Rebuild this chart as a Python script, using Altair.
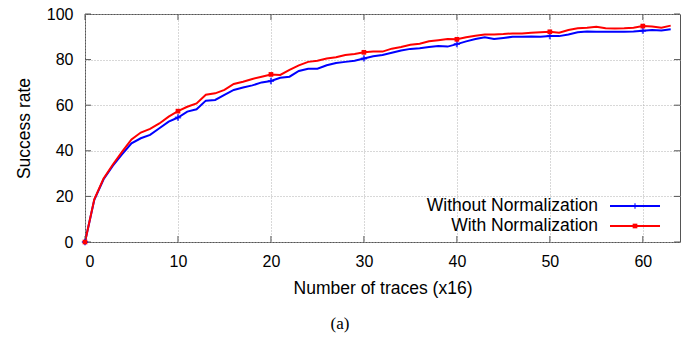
import altair as alt
import pandas as pd

# Number of traces (in units of 16)
traces = list(range(64))

without_norm = [
    0, 18.5, 27.5, 33.5, 38.5, 43.3, 45.5, 47, 49.9, 52.8,
    54.6, 57.2, 58.2, 62, 62.3, 64.5, 66.7, 67.8, 68.7, 70,
    70.6, 72, 72.5, 75, 76, 76, 77.5, 78.5, 79, 79.5,
    80.5, 81.5, 82, 83, 84, 84.7, 85, 85.5, 86, 85.7,
    86.8, 88, 89, 89.8, 89, 89.5, 90, 90, 90.1, 90,
    90.3, 90.3, 91, 92, 92.3, 92.2, 92.2, 92.2, 92.2, 92.3,
    92.7, 93, 92.8, 93.3,
]
with_norm = [
    0, 18.7, 27.9, 34, 39.6, 45, 48, 49.6, 52, 55,
    57.4, 59.3, 60.8, 64.6, 65.2, 66.7, 69.3, 70.3, 71.5, 72.5,
    73.5, 73.3, 75.5, 77.5, 79, 79.5, 80.5, 81, 82, 82.5,
    83.2, 83.5, 83.5, 84.8, 85.5, 86.5, 87, 88, 88.5, 89,
    88.9, 89.8, 90.5, 91, 91, 91.2, 91.5, 91.5, 91.8, 92,
    92.2, 91.8, 93, 93.7, 94, 94.4, 93.8, 93.6, 93.7, 94,
    94.7, 94.5, 94, 94.9,
]

series_names = ["Without Normalization", "With Normalization"]
series_colors = ["#0000ff", "#ff0000"]

x_ticks = [0, 10, 20, 30, 40, 50, 60]
y_ticks = [0, 20, 40, 60, 80, 100]

W, H = 595, 228
FONT = "Liberation Sans"

rows = []
for name, vals in zip(series_names, [without_norm, with_norm]):
    for t, v in zip(traces, vals):
        rows.append({"series": name, "traces": t, "rate": v, "marked": t % 10 == 0})
df = pd.DataFrame(rows)

x_scale = alt.Scale(domain=[0, 64], nice=False, zero=False)
y_scale = alt.Scale(domain=[0, 100], nice=False)
color_scale = alt.Scale(domain=series_names, range=series_colors)

axis_text = dict(
    labelFont=FONT, titleFont=FONT, labelFontSize=16, titleFontSize=17.5,
    labelColor="black", titleColor="black", titleFontWeight="normal",
    grid=True, gridColor="#b0b0b0", gridDash=[1, 2], gridWidth=1,
    domain=False, ticks=False,
)
x_axis = alt.Axis(values=x_ticks, title="Number of traces (x16)",
                  labelPadding=11, titlePadding=10, **axis_text)
y_axis = alt.Axis(values=y_ticks, title="Success rate",
                  labelPadding=12, titlePadding=13, **axis_text)


def xq(field):
    return alt.X(field, scale=x_scale, axis=x_axis)


def yq(field):
    return alt.Y(field, scale=y_scale, axis=y_axis)


lines = alt.Chart(df).mark_line(strokeWidth=2, clip=True).encode(
    x=xq("traces:Q"),
    y=yq("rate:Q"),
    color=alt.Color("series:N", scale=color_scale, legend=None),
    order=alt.Order("traces:Q"),
)

plus_path = "M-1,0L1,0M0,-1L0,1"
blue_pts = alt.Chart(df).transform_filter(
    (alt.datum.series == series_names[0]) & alt.datum.marked
).mark_point(shape=plus_path, size=40, strokeWidth=2, color=series_colors[0], filled=False).encode(
    x=xq("traces:Q"), y=yq("rate:Q")
)
red_pts = alt.Chart(df).transform_filter(
    (alt.datum.series == series_names[1]) & alt.datum.marked
).mark_point(shape="square", size=22, color=series_colors[1], filled=True, opacity=1).encode(
    x=xq("traces:Q"), y=yq("rate:Q")
)

# Inward tick marks on all four sides of the frame
xt = pd.DataFrame({"v": x_ticks})
yt = pd.DataFrame({"v": y_ticks})
tick_style = dict(color="#555555", strokeWidth=1)
xticks_bottom = alt.Chart(xt).mark_rule(**tick_style).encode(
    x=xq("v:Q"), y=alt.value(H), y2=alt.value(H - 6))
xticks_top = alt.Chart(xt).mark_rule(**tick_style).encode(
    x=xq("v:Q"), y=alt.value(0), y2=alt.value(6))
yticks_left = alt.Chart(yt).mark_rule(**tick_style).encode(
    y=yq("v:Q"), x=alt.value(0), x2=alt.value(6))
yticks_right = alt.Chart(yt).mark_rule(**tick_style).encode(
    y=yq("v:Q"), x=alt.value(W), x2=alt.value(W - 6))

# Key: labels to the left of the line samples
key_layers = []
for i, (name, col) in enumerate(zip(series_names, series_colors)):
    ky = 192 + 20 * i
    key_layers.append(
        alt.Chart(pd.DataFrame({"t": [name]})).mark_text(
            align="right", baseline="middle", font=FONT, fontSize=17.5, color="black"
        ).encode(text="t:N", x=alt.value(513), y=alt.value(ky))
    )
    key_layers.append(
        alt.Chart(pd.DataFrame({"t": [name]})).mark_rule(color=col, strokeWidth=2).encode(
            x=alt.value(525), x2=alt.value(575), y=alt.value(ky))
    )
key_layers.append(
    alt.Chart(pd.DataFrame({"t": [0]})).mark_point(
        shape=plus_path, size=30, strokeWidth=1.5, color=series_colors[0], filled=False
    ).encode(x=alt.value(550), y=alt.value(192))
)
key_layers.append(
    alt.Chart(pd.DataFrame({"t": [0]})).mark_point(
        shape="square", size=22, color=series_colors[1], filled=True, opacity=1
    ).encode(x=alt.value(550), y=alt.value(212))
)

caption = alt.Chart(pd.DataFrame({"t": ["(a)"]})).mark_text(
    font="Liberation Serif", fontSize=17, color="black", baseline="middle", align="center"
).encode(text="t:N", x=alt.value(255), y=alt.value(310))

chart = alt.layer(
    lines, xticks_bottom, xticks_top, yticks_left, yticks_right,
    blue_pts, red_pts, *key_layers, caption,
).properties(
    width=W, height=H,
    autosize=alt.AutoSizeParams(type="none"),
    padding={"left": 85, "top": 14, "right": 10, "bottom": 97},
).configure_view(
    stroke="#555555", strokeWidth=1
)

chart.save("out.html", embed_options={"renderer": "svg", "actions": False})
